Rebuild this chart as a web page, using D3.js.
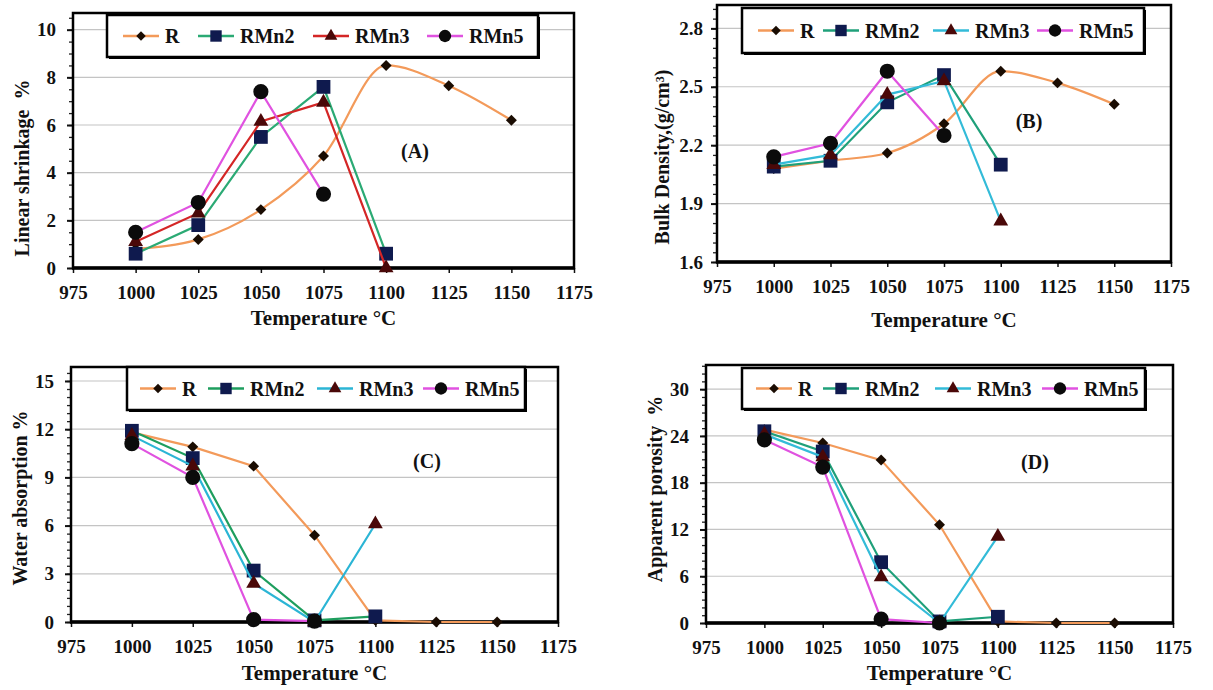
<!DOCTYPE html>
<html>
<head>
<meta charset="utf-8">
<script src="https://cdn.jsdelivr.net/npm/d3@7"></script>
<style>
  body { margin: 0; background: #fff; }
  svg text { font-family: "Liberation Serif", "Times New Roman", serif; font-weight: bold; fill: #111; }
</style>
</head>
<body>
<svg id="chart" width="1213" height="690"></svg>
<script>
// firing temperatures and axis ticks
var temps = [1000, 1025, 1050, 1075, 1100, 1125, 1150];
var xTicks = [975, 1000, 1025, 1050, 1075, 1100, 1125, 1150, 1175];
var seriesNames = ["R", "RMn2", "RMn3", "RMn5"];

// (A) linear shrinkage %
var shrinkR    = [0.8, 1.2, 2.45, 4.7, 8.5, 7.65, 6.2];
var shrinkRMn2 = [0.6, 1.8, 5.5, 7.6, 0.6];
var shrinkRMn3 = [1.1, 2.3, 6.15, 6.95, 0];
var shrinkRMn5 = [1.5, 2.75, 7.4, 3.1];
var shrinkTicks = [0, 2, 4, 6, 8, 10];

// (B) bulk density g/cm3
var densR    = [2.08, 2.12, 2.16, 2.31, 2.58, 2.52, 2.41];
var densRMn2 = [2.09, 2.12, 2.42, 2.56, 2.10];
var densRMn3 = [2.10, 2.15, 2.46, 2.53, 1.81];
var densRMn5 = [2.14, 2.21, 2.58, 2.25];
var densTicks = [1.6, 1.9, 2.2, 2.5, 2.8];

// (C) water absorption %
var waterR    = [11.8, 10.9, 9.7, 5.4, 0.1, 0, 0];
var waterRMn2 = [11.9, 10.2, 3.2, 0.1, 0.35];
var waterRMn3 = [11.6, 9.7, 2.4, 0, 6.1];
var waterRMn5 = [11.1, 9.0, 0.15, 0.05];
var waterTicks = [0, 3, 6, 9, 12, 15];

// (D) apparent porosity %
var poroR    = [24.8, 23.1, 20.9, 12.6, 0.2, 0, 0];
var poroRMn2 = [24.6, 22.0, 7.8, 0.2, 0.8];
var poroRMn3 = [24.2, 21.3, 5.9, 0, 11.1];
var poroRMn5 = [23.5, 20.0, 0.5, 0];
var poroTicks = [0, 6, 12, 18, 24, 30];

var orange = "#F39A5A";

var panels = [
  { name: "(A)", values: [shrinkR, shrinkRMn2, shrinkRMn3, shrinkRMn5], yTicks: shrinkTicks,
    yMin: 0, yMax: 10.7, minor: 0.5, fmt: d3.format("d"), smooth: true,
    colors: [orange, "#2BAA74", "#D42626", "#E052E0"],
    box: { x0: 73, x1: 574, y0: 13, y1: 268 }, pad: 11,
    yTitle: "Linear shrinkage  %", yTitleX: 22, yTitleY: 168, xTitleY: 325,
    label: [415, 158], legend: { x: 107, y: 15, w: 431, h: 42, items: [16, 91, 206, 320] } },
  { name: "(B)", values: [densR, densRMn2, densRMn3, densRMn5], yTicks: densTicks,
    yMin: 1.6, yMax: 2.92, minor: 0.05, fmt: d3.format(".1f"), smooth: true,
    colors: [orange, "#1FA07A", "#33BBD8", "#E052E0"],
    box: { x0: 717, x1: 1171, y0: 5, y1: 262 }, pad: 8,
    yTitle: "Bulk Density,(g/cm³)", yTitleX: 662, yTitleY: 157, xTitleY: 327,
    label: [1029, 128], legend: { x: 742, y: 8, w: 402, h: 45, items: [16, 81, 191, 295] } },
  { name: "(C)", values: [waterR, waterRMn2, waterRMn3, waterRMn5], yTicks: waterTicks,
    yMin: 0, yMax: 15.87, minor: 0.5, fmt: d3.format("d"), smooth: false,
    colors: [orange, "#1E9E5E", "#2BB5D5", "#E052E0"],
    box: { x0: 71, x1: 558, y0: 367, y1: 622 }, pad: 11,
    yTitle: "Water absorption %", yTitleX: 20, yTitleY: 498, xTitleY: 680,
    label: [427, 468], legend: { x: 127, y: 367, w: 398, h: 43, items: [13, 81, 190, 296] } },
  { name: "(D)", values: [poroR, poroRMn2, poroRMn3, poroRMn5], yTicks: poroTicks,
    yMin: 0, yMax: 33.1, minor: 1, fmt: d3.format("d"), smooth: false,
    colors: [orange, "#1FA07A", "#33BBD8", "#E052E0"],
    box: { x0: 706, x1: 1173, y0: 365, y1: 623 }, pad: 11,
    yTitle: "Apparent porosity  %", yTitleX: 655, yTitleY: 489, xTitleY: 680,
    label: [1035, 469], legend: { x: 742, y: 368, w: 403, h: 41, items: [14, 81, 193, 300] } }
];

// marker shapes: diamond, square, triangle, circle
var markerFill = ["#1a0c02", "#0f1a4e", "#4a0808", "#0b0b0b"];
var markerPath = [
  d3.symbol().type(d3.symbolSquare).size(60)(),
  d3.symbol().type(d3.symbolSquare).size(190)(),
  d3.symbol().type(d3.symbolTriangle).size(95)(),
  d3.symbol().type(d3.symbolCircle).size(180)()
];
var legendMarker = [
  d3.symbol().type(d3.symbolSquare).size(45)(),
  d3.symbol().type(d3.symbolSquare).size(130)(),
  d3.symbol().type(d3.symbolTriangle).size(70)(),
  d3.symbol().type(d3.symbolCircle).size(120)()
];

var svg = d3.select("#chart");

panels.forEach(function (p) {
  var b = p.box;
  var g = svg.append("g");
  var x = d3.scaleLinear().domain([975, 1175]).range([b.x0, b.x1]);
  var y = d3.scaleLinear().domain([p.yMin, p.yMax]).range([b.y1, b.y0]);

  // gridlines
  g.selectAll("line.grid")
    .data(p.yTicks.filter(function (t) { return t > p.yMin; }))
    .enter().append("line")
    .attr("x1", b.x0).attr("x2", b.x1)
    .attr("y1", function (d) { return y(d); }).attr("y2", function (d) { return y(d); })
    .attr("stroke", "#c4c4c4").attr("stroke-width", 1.2);

  // minor ticks on y
  var minorTicks = d3.range(p.yMin, p.yMax, p.minor);
  var ym = g.append("g").attr("transform", "translate(" + b.x0 + ",0)")
    .call(d3.axisLeft(y).tickValues(minorTicks).tickSize(4).tickFormat(""));
  ym.select(".domain").remove();
  ym.selectAll("line").attr("stroke", "#222").attr("stroke-width", 1.3);

  // major y axis
  var ya = g.append("g").attr("transform", "translate(" + b.x0 + ",0)")
    .call(d3.axisLeft(y).tickValues(p.yTicks).tickSize(6).tickPadding(p.pad).tickFormat(p.fmt));
  ya.select(".domain").remove();
  ya.selectAll("line").attr("stroke", "#111").attr("stroke-width", 2);
  ya.selectAll("text").style("font-size", "19px");

  // x axis
  var xa = g.append("g").attr("transform", "translate(0," + b.y1 + ")")
    .call(d3.axisBottom(x).tickValues(xTicks).tickSize(5).tickPadding(13).tickFormat(d3.format("d")));
  xa.select(".domain").remove();
  xa.selectAll("line").attr("stroke", "#111").attr("stroke-width", 1.5);
  xa.selectAll("text").style("font-size", "19px");

  // plot frame
  g.append("rect")
    .attr("x", b.x0).attr("y", b.y0).attr("width", b.x1 - b.x0).attr("height", b.y1 - b.y0)
    .attr("fill", "none").attr("stroke", "#000").attr("stroke-width", 2.5);
  g.append("line")
    .attr("x1", b.x0 - 1).attr("x2", b.x1 + 1).attr("y1", b.y1).attr("y2", b.y1)
    .attr("stroke", "#000").attr("stroke-width", 3.5);

  // titles
  g.append("text")
    .attr("x", (b.x0 + b.x1) / 2).attr("y", p.xTitleY)
    .attr("text-anchor", "middle").style("font-size", "21px")
    .text("Temperature °C");
  g.append("text")
    .attr("transform", "translate(" + p.yTitleX + "," + p.yTitleY + ") rotate(-90)")
    .attr("text-anchor", "middle").attr("dy", "0.35em").style("font-size", "20px")
    .style("white-space", "pre")
    .text(p.yTitle);
  g.append("text")
    .attr("x", p.label[0]).attr("y", p.label[1])
    .attr("text-anchor", "middle").style("font-size", "20px")
    .text(p.name);

  // series
  p.values.forEach(function (vals, i) {
    var pts = vals.map(function (v, k) { return [temps[k], v]; });
    var line = d3.line()
      .x(function (d) { return x(d[0]); })
      .y(function (d) { return y(d[1]); })
      .curve(i === 0 && p.smooth ? d3.curveMonotoneX : d3.curveLinear);
    g.append("path").datum(pts)
      .attr("d", line)
      .attr("fill", "none")
      .attr("stroke", p.colors[i])
      .attr("stroke-width", 2.2);
    g.selectAll("path.m" + i)
      .data(pts).enter().append("path")
      .attr("class", "m" + i)
      .attr("d", markerPath[i])
      .attr("fill", markerFill[i])
      .attr("transform", function (d) {
        return "translate(" + x(d[0]) + "," + y(d[1]) + ")" + (i === 0 ? " rotate(45)" : "");
      });
  });

  // legend
  var L = p.legend;
  var lg = g.append("g").attr("transform", "translate(" + L.x + "," + L.y + ")");
  lg.append("rect").attr("x", 2).attr("y", 2).attr("width", L.w).attr("height", L.h).attr("fill", "#000");
  lg.append("rect").attr("width", L.w).attr("height", L.h)
    .attr("fill", "#fff").attr("stroke", "#000").attr("stroke-width", 2.5);
  seriesNames.forEach(function (s, i) {
    var lx = L.items[i], cy = L.h / 2;
    lg.append("line").attr("x1", lx).attr("x2", lx + 36).attr("y1", cy).attr("y2", cy)
      .attr("stroke", p.colors[i]).attr("stroke-width", 2.5);
    lg.append("path").attr("d", legendMarker[i]).attr("fill", markerFill[i])
      .attr("transform", "translate(" + (lx + 18) + "," + cy + ")" + (i === 0 ? " rotate(45)" : ""));
    lg.append("text").attr("x", lx + 42).attr("y", cy).attr("dy", "0.35em")
      .style("font-size", "20px").text(s);
  });
});
</script>
</body>
</html>
